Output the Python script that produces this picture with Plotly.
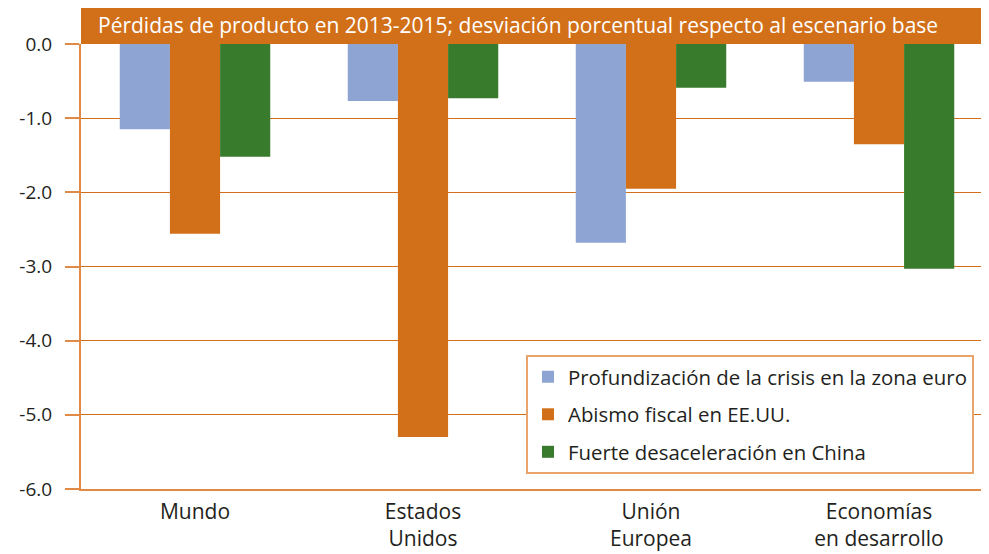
import plotly.graph_objects as go

categories = ["Mundo", "Estados<br>Unidos", "Unión<br>Europea", "Economías<br>en desarrollo"]
series_names = [
    "Profundización de la crisis en la zona euro",
    "Abismo fiscal en EE.UU.",
    "Fuerte desaceleración en China",
]
euro_crisis = [-1.15, -0.77, -2.68, -0.51]
fiscal_cliff = [-2.56, -5.30, -1.95, -1.35]
china_slowdown = [-1.52, -0.73, -0.59, -3.03]
y_ticks = [0, -1, -2, -3, -4, -5, -6]
y_tick_labels = ["0.0", "-1.0", "-2.0", "-3.0", "-4.0", "-5.0", "-6.0"]
title_text = "Pérdidas de producto en 2013-2015; desviación porcentual respecto al escenario base"

colors = ["#8EA5D4", "#D2701A", "#387B2D"]
ORANGE = "#D2701A"
AXIS_ORANGE = "#E08A45"
FONT = "Open Sans"
TXT = "#231F20"

fig = go.Figure()
for i, (name, vals) in enumerate(zip(series_names, [euro_crisis, fiscal_cliff, china_slowdown])):
    fig.add_trace(go.Bar(
        x=list(range(len(categories))), y=vals, name=name,
        marker=dict(color=colors[i], line=dict(width=0)),
        legendgroup=f"g{i}",
    ))

# page body has an 8px margin; figure coordinates are offset by it
W, H = 981, 546
L, R, T, B = 73, 0, 36, 65
plot_w = W - L - R
plot_h = H - T - B
cat_px = 228
x_max = -0.5 + plot_w / cat_px

fig.update_layout(
    width=W, height=H,
    margin=dict(l=L, r=R, t=T, b=B, pad=0),
    paper_bgcolor="white", plot_bgcolor="white",
    barmode="group", bargap=0.34, bargroupgap=0,
    font=dict(family=FONT, size=19, color=TXT),
    showlegend=True,
    legend=dict(
        x=(518 - L) / plot_w, y=(481 - 347) / plot_h,
        xanchor="left", yanchor="top",
        bgcolor="white", bordercolor="#E9A46B", borderwidth=2,
        font=dict(family=FONT, size=20.4, color=TXT),
        tracegroupgap=8, itemclick=False,
    ),
    xaxis=dict(
        range=[-0.5, x_max], tickmode="array",
        tickvals=list(range(len(categories))), ticktext=categories,
        showgrid=False, zeroline=False, showline=True,
        linecolor=AXIS_ORANGE, linewidth=1.5, ticks="",
        ticklabelstandoff=3,
        tickfont=dict(family=FONT, size=21, color=TXT),
        automargin=False, fixedrange=True,
    ),
    yaxis=dict(
        range=[-6, 0], tickmode="array", tickvals=y_ticks, ticktext=y_tick_labels,
        showgrid=True, gridcolor=ORANGE, gridwidth=1,
        zeroline=False, showline=True, linecolor=AXIS_ORANGE, linewidth=2,
        ticks="outside", ticklen=14, tickcolor=AXIS_ORANGE, tickwidth=2,
        ticklabelstandoff=9,
        tickfont=dict(family=FONT, size=19, color=TXT),
        automargin=False, fixedrange=True,
    ),
)

# Title banner
fig.add_shape(type="rect", xref="paper", yref="paper",
              x0=0, x1=1, y0=1, y1=(H - B) / plot_h,
              fillcolor=ORANGE, line=dict(width=0), layer="above")
fig.add_annotation(text=title_text, xref="paper", yref="paper",
                   x=(88 - L) / plot_w, y=(H - B - 17) / plot_h,
                   xanchor="left", yanchor="middle", showarrow=False,
                   font=dict(family=FONT, size=21, color="white"))

fig.write_html("out.html")
